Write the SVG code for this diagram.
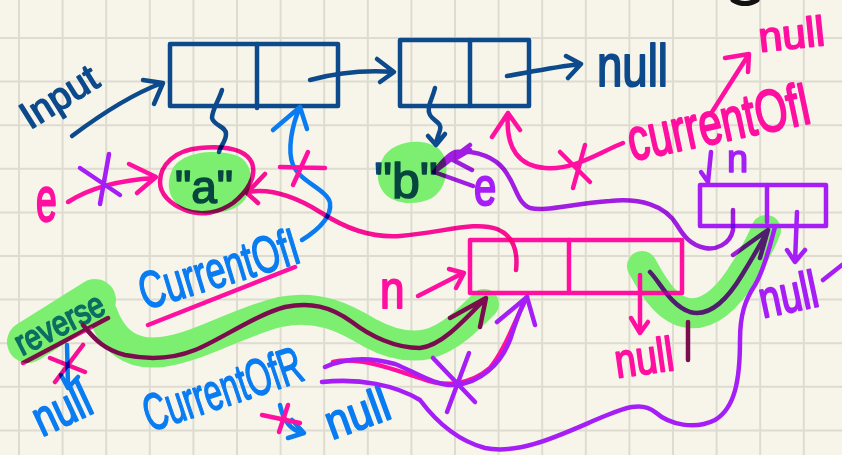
<svg xmlns="http://www.w3.org/2000/svg" width="842" height="455" viewBox="0 0 842 455">
  <style>
    .grid{stroke:#dedcd0;stroke-width:2;fill:none}
    .ink{fill:none;stroke-width:4.5;stroke-linecap:round;stroke-linejoin:round}
    .mx{mix-blend-mode:multiply}
    .db{stroke:#0d4a8c}
    .lb{stroke:#0a7cf2}
    .pk{stroke:#ff10a0}
    .pu{stroke:#a61ef6}
    .mr{stroke:#7b0d4f}
    .hl{fill:#7cef71}
    .band{fill:none;stroke:#7cef71;stroke-linecap:round;stroke-linejoin:round}
    .hw{font-family:"Liberation Sans","DejaVu Sans",sans-serif;stroke-width:1.6;stroke-linejoin:round}
    .tdb{fill:#0d4a8c;stroke:#0d4a8c}
    .tlb{fill:#0a7cf2;stroke:#0a7cf2}
    .tpk{fill:#ff10a0;stroke:#ff10a0}
    .tpu{fill:#a61ef6;stroke:#a61ef6}
    .ttl{fill:#0c6e62;stroke:#0c6e62}
    .box{fill:none;stroke-width:4.5;stroke-linejoin:round;stroke-linecap:round}
  </style>

  <!-- page -->
  <rect width="842" height="455" fill="#f7f5ea"/>
  <path class="grid" d="M19,0V455M62.6,0V455M106.2,0V455M149.8,0V455M193.4,0V455M237,0V455M280.6,0V455M324.2,0V455M367.8,0V455M411.4,0V455M455,0V455M498.6,0V455M542.2,0V455M585.8,0V455M629.4,0V455M673,0V455M716.6,0V455M760.2,0V455M803.8,0V455
    M0,38H842M0,81.6H842M0,125.2H842M0,168.8H842M0,212.4H842M0,256H842M0,299.6H842M0,343.2H842M0,386.8H842M0,430.4H842"/>
  <path d="M733,0 Q745,7 757,0" fill="none" stroke="#111" stroke-width="5" stroke-linecap="round"/>

  <!-- highlighter marks -->
  <g id="highlights">
    <path class="hl" d="M172,170 C180,152 215,148 238,156 C255,164 254,190 242,203 C228,216 196,216 182,208 C168,199 166,184 172,170 Z"/>
    <path class="hl" d="M382,160 C390,142 420,136 438,148 C452,160 448,188 432,198 C415,207 390,204 382,190 C376,180 377,170 382,160 Z"/>
    <path class="band" stroke-width="42" d="M28,342 L95,300"/>
    <path class="band" stroke-width="30" d="M102,312 C112,340 130,356 162,352 C200,347 238,322 280,312 C318,304 345,318 370,333 C392,345 410,348 428,344 C450,338 468,320 484,304"/>
    <path class="band" stroke-width="30" d="M642,266 C655,290 668,310 688,313 C712,316 732,292 745,270 C755,254 762,240 766,230"/>
  </g>

  <!-- list nodes -->
  <g id="node-input-a">
    <rect class="box db" x="170" y="44" width="168" height="62"/>
    <path class="ink db" d="M257,44 V108"/>
  </g>
  <g id="node-input-b">
    <rect class="box db" x="400" y="40" width="129" height="66"/>
    <path class="ink db" d="M470,40 V106"/>
  </g>
  <g id="node-rev-a">
    <rect class="box pk" x="470" y="240" width="212" height="53"/>
    <path class="ink pk" d="M569,240 V293"/>
  </g>
  <g id="node-rev-b">
    <rect class="box pu" x="700" y="185" width="126" height="41"/>
    <path class="ink pu" d="M767,185 V222"/>
  </g>

  <!-- values and labels -->
  <g id="value-a">
    <text class="hw tdb mx" x="204" y="203" font-size="46" text-anchor="middle">"a"</text>
  </g>
  <g id="value-b">
    <text class="hw tdb mx" x="406" y="198" font-size="50" text-anchor="middle">"b"</text>
  </g>
  <g id="labels">
    <text class="hw tdb" font-size="38" transform="translate(30,130) rotate(-32)">Input</text>
    <text class="hw tdb" font-size="48" transform="translate(597,86) scale(0.95,1.25)">null</text>
    <text class="hw tpk" font-size="38" transform="translate(760,52) rotate(-6) scale(1.12,1.1)">null</text>
    <text class="hw tpk" font-size="44" transform="translate(632,161) rotate(-12) scale(0.95,1.35)">currentOfI</text>
    <text class="hw tpk" font-size="44" transform="translate(36,221) scale(0.85,1.45)">e</text>
    <text class="hw tpu" font-size="40" transform="translate(474,205) scale(1,1.35)">e</text>
    <text class="hw tpk" font-size="44" transform="translate(380,308) scale(1,1.2)">n</text>
    <text class="hw tpu" font-size="38" transform="translate(727,172)">n</text>
    <text class="hw tlb" font-size="52" transform="translate(145,310) rotate(-17) scale(0.68,1)">CurrentOfI</text>
    <text class="hw ttl" font-size="32" transform="translate(22,356) rotate(-27) scale(0.9,1.1)">reverse</text>
    <text class="hw tlb" font-size="40" transform="translate(42,437) rotate(-25) scale(0.95,1.25)">null</text>
    <text class="hw tlb" font-size="52" transform="translate(150,432) rotate(-18.5) scale(0.62,1)">CurrentOfR</text>
    <text class="hw tlb" font-size="42" transform="translate(332,440) rotate(-20) scale(1,1.15)">null</text>
    <text class="hw tpk" font-size="40" transform="translate(617,378) rotate(-8) scale(0.95,1.2)">null</text>
    <text class="hw tpu" font-size="40" transform="translate(763,318) rotate(-12) scale(0.95,1.3)">null</text>
  </g>

  <!-- connectors -->
  <g id="connectors">
    <!-- dark blue: input list -->
    <path class="ink db" d="M72,136 C100,115 130,95 162,83 M143,80 L163,83 L154,104"/>
    <path class="ink db" d="M310,80 C340,72 365,70 393,72 M377,59 L394,72 L380,82"/>
    <path class="ink db" d="M507,76 C530,72 555,67 580,64 M566,56 L581,64 L568,78"/>
    <path class="ink db" d="M222,90 C219,100 212,110 212,118 C214,126 226,126 226,134 C226,142 220,146 219,152"/>
    <path class="ink db" d="M435,88 C432,100 426,108 430,115 C434,122 442,122 440,130 C438,137 436,140 436,145 M428,136 L436,145 L445,134"/>

    <!-- light blue -->
    <path class="ink lb" d="M302,240 C318,230 332,218 330,203 C328,190 300,182 293,165 C287,150 292,125 300,107 M273,130 L300,107 L307,129"/>
    <path class="ink lb" d="M67,345 L68,386 M61,375 L68,388 L78,377"/>
    <path class="ink lb" d="M280,405 C283,420 290,430 303,433 M292,420 L304,433 L288,438"/>

    <!-- pink -->
    <path class="ink pk" d="M68,202 C90,188 120,180 155,178 M129,164 L156,177 L137,193"/>
    <path class="ink pk mx" d="M516,270 C518,252 514,236 497,229 C475,221 445,232 400,236 C370,238 345,228 320,212 C296,197 272,188 248,192 M265,174 L247,193 L258,203"/>
    <path class="ink pk mx" d="M160,182 C160,165 175,150 200,148 C222,146 245,148 252,163 C257,177 247,192 233,203 C220,212 202,217 185,210 C170,204 160,194 160,182"/>
    <path class="ink pk" d="M280,167 L325,168 M308,152 L293,185"/>
    <path class="ink pk mx" d="M23,363 L108,318"/>
    <path class="ink pk mx" d="M50,358 L85,372 M55,382 L83,345"/>
    <path class="ink pk" d="M148,325 L295,267"/>
    <path class="ink pk" d="M418,296 L463,273 M449,269 L464,273 L456,288"/>
    <path class="ink pk" d="M333,362 C360,356 395,370 420,378 C445,388 470,385 490,368 C505,350 515,320 527,297"/>
    <path class="ink pk" d="M640,275 L640,333 M631,318 L640,333 L648,322"/>
    <path class="ink mr" d="M688,322 L688,360"/>
    <path class="ink pk" d="M623,143 C600,152 575,170 545,168 C520,166 505,150 508,113 M492,137 L508,113 L520,130"/>
    <path class="ink pk" d="M560,152 L590,182 M585,145 L573,188"/>
    <path class="ink pk" d="M712,112 L749,54 M725,58 L749,54 L748,72"/>
    <path class="ink pk" d="M262,415 L300,423 M288,405 L279,432"/>

    <!-- maroon: reverse path -->
    <path class="ink mr" stroke-width="3.5" d="M83,325 C95,340 105,350 125,355 C150,360 175,358 195,350 C220,340 255,315 285,307 C310,302 330,306 352,322 C370,336 395,348 420,348 C440,346 460,325 485,299 M450,318 L486,298 L480,327"/>

    <!-- purple -->
    <path class="ink pu" d="M80,168 L120,195 M109,154 L100,204"/>
    <path class="ink pu mx" d="M733,210 L733,230 C730,245 715,250 705,248 C690,245 683,235 677,225 C665,205 640,198 610,201 C570,204 545,212 530,208 C515,202 516,180 500,165 C488,154 470,150 455,152 C447,155 440,164 434,172 M470,145 L434,172 L473,186 M470,150 L453,160 L472,170"/>
    <path class="ink pu" d="M325,367 C345,358 370,357 395,364 C415,372 435,386 455,385 C480,383 500,365 510,340 C516,322 520,308 527,297 M497,322 L527,297 L535,325"/>
    <path class="ink pu" d="M433,358 L475,402 M469,353 L447,412"/>
    <path class="ink pu" d="M322,382 C360,378 395,385 420,400 C435,420 455,440 485,448 C520,455 560,435 600,418 C620,410 640,400 655,412 C670,425 695,430 715,420 C735,408 740,380 740,340 C740,315 745,300 755,285 C765,268 770,245 775,227"/>
    <path class="ink pu" d="M797,212 L795,262 M787,250 L795,262 L805,250"/>
    <path class="ink pu" d="M823,280 L842,265"/>
    <path class="ink pu" d="M711,152 L708,182 M701,172 L708,182"/>
    <path class="ink pu mx" d="M650,272 C660,282 670,305 690,312 C712,318 730,295 742,275 C750,262 760,245 767,232 M733,255 L768,230 L760,258"/>
  </g>
</svg>
